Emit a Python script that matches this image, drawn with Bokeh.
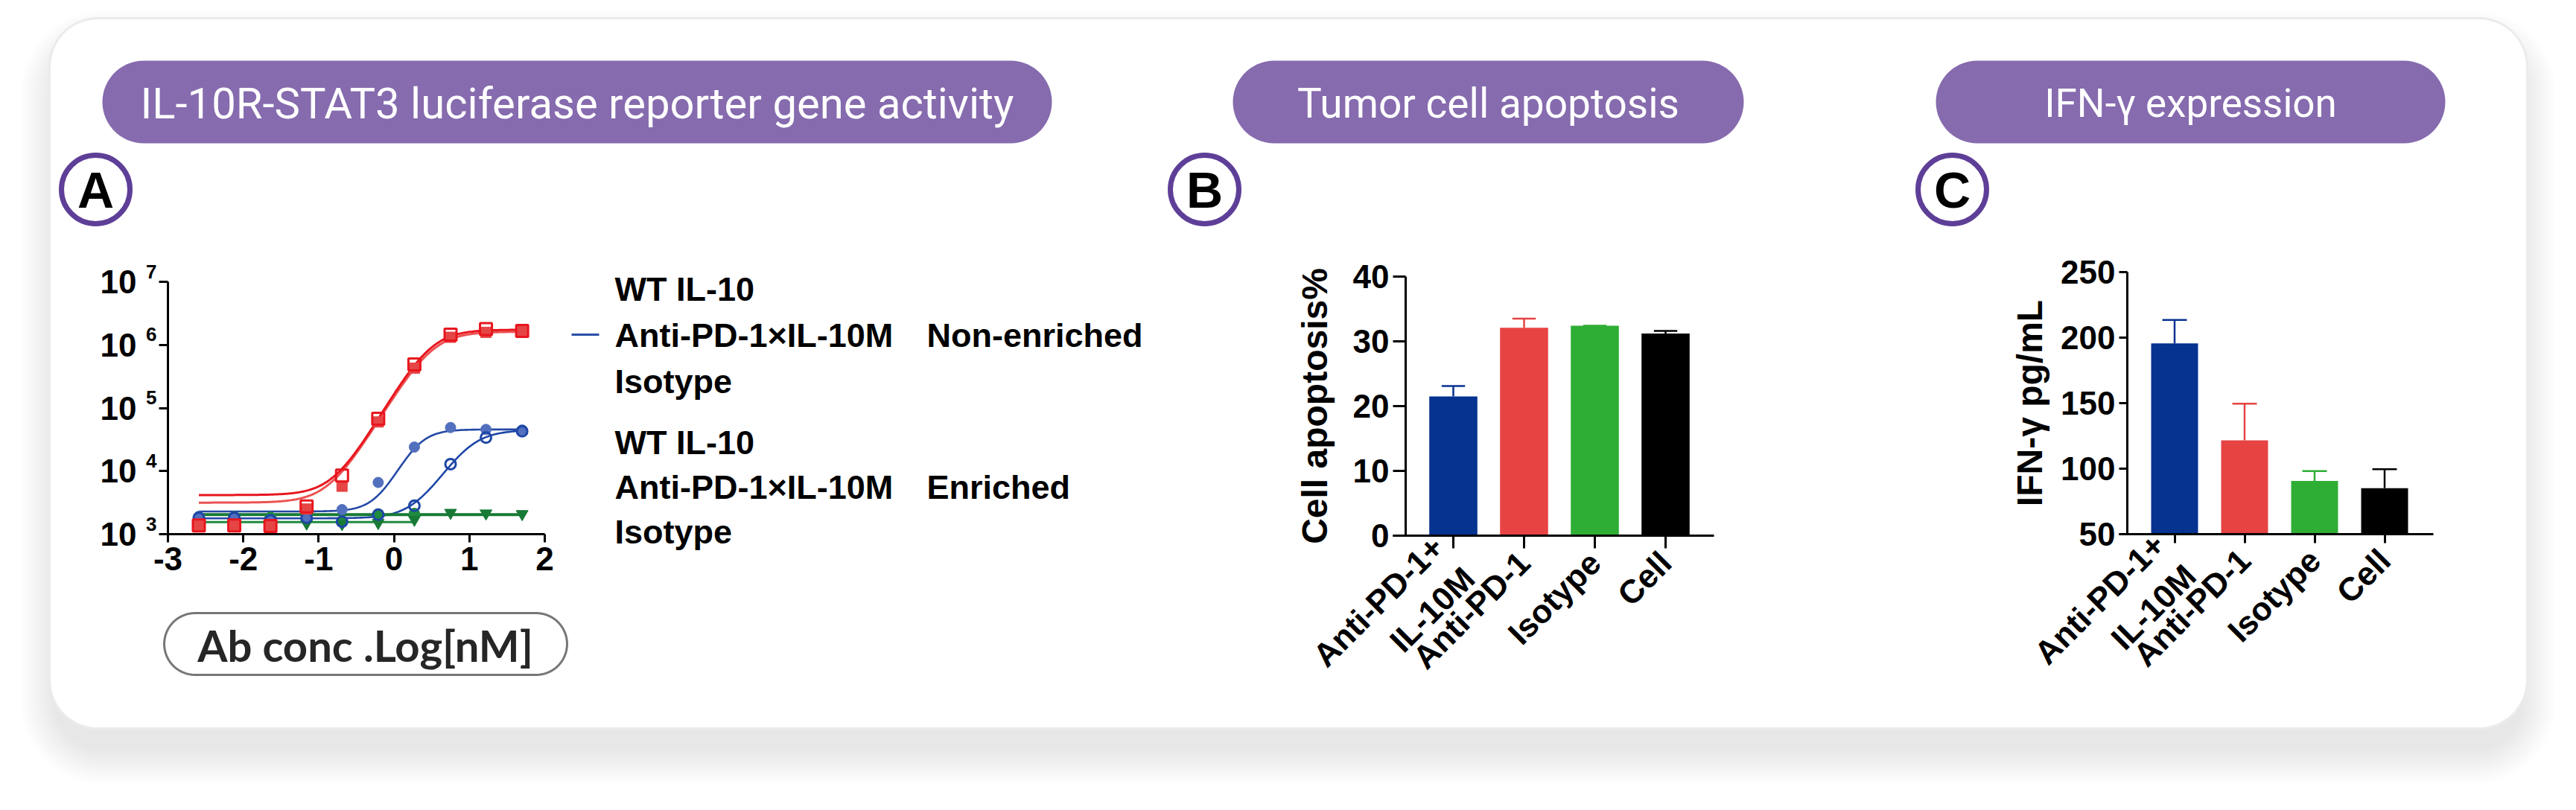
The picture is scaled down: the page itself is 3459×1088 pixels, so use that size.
import math
import numpy as np
from bokeh.plotting import figure
from bokeh.models import Range1d, LinearAxis, LogAxis, LogScale, FixedTicker
from bokeh.embed import file_html
from bokeh.resources import INLINE
from bokeh.core.properties import value

# ======================= DATA =======================
# Panel A - IL-10R-STAT3 luciferase reporter (x = log10 antibody conc. [nM])
a_log_conc = [-2.59, -2.12, -1.64, -1.16, -0.69, -0.21, 0.27, 0.75, 1.22, 1.70]
a_wt_non = [1350, 1350, 1320, 2500, 5750, 60000, 427000, 1320000, 1580000, 1660000]
a_anti_non = [1900, 1820, 1660, 1820, 2450, 6600, 24000, 49000, 45700, 44700]
a_iso_non = [1900, 1900, 1860, 1780, 1580, 2090, 2140]
a_wt_enr = [1380, 1380, 1350, 2750, 8500, 67600, 490000, 1450000, 1780000, 1660000]
a_anti_enr = [1820, 1820, 1660, 1820, 1580, 2040, 2820, 12900, 33900, 42700]
a_iso_enr = [1660, 1660, 1660, 1480, 1450, 1510, 1700, 2190, 2140, 2090]
# fitted 4-parameter logistic curves, same series order as above
fit_bottom = [3160, 2290, 1550, 4170, 1780, 2040]
fit_top = [1620000, 45700, 1550, 1740000, 44700, 2040]
fit_logec50 = [0.50, 0.29, 0.0, 0.48, 0.98, 0.0]
fit_hill = [2.0, 2.7, 1.0, 2.06, 2.1, 1.0]
fit_x_end = [1.70, 1.70, 0.27, 1.70, 1.70, 1.70]
a_x_ticks = [-3, -2, -1, 0, 1, 2]
a_x_tick_labels = ["-3", "-2", "-1", "0", "1", "2"]
a_y_ticks = [1e3, 1e4, 1e5, 1e6, 1e7]
a_y_tick_base = "10"
a_y_tick_exponents = ["3", "4", "5", "6", "7"]
a_legend_rows = ["WT IL-10", "Anti-PD-1×IL-10M", "Isotype"]
a_legend_groups = ["Non-enriched", "Enriched"]
a_x_label = "Ab conc .Log[nM]"

# Panels B and C - bar charts (mean + SEM)
bar_categories = ["Anti-PD-1+\nIL-10M", "Anti-PD-1", "Isotype", "Cell"]
b_values = [21.5, 32.1, 32.4, 31.2]
b_sem = [1.6, 1.4, 0.0, 0.4]
b_y_ticks = [0, 10, 20, 30, 40]
b_y_label = "Cell apoptosis%"
c_values = [195.5, 121.5, 90.5, 85.0]
c_sem = [18.0, 28.0, 7.5, 14.5]
c_y_ticks = [50, 100, 150, 200, 250]
c_y_label = "IFN-γ pg/mL"

panel_titles = ["IL-10R-STAT3 luciferase reporter gene activity", "Tumor cell apoptosis", "IFN-γ expression"]
panel_letters = ["A", "B", "C"]

# ======================= LAYOUT (page pixels) =======================
W, H = 3440, 1075
X0, X1 = 0, W
Y0, Y1 = 0, H

# panel A plot area
A_XL, A_XR = 225.0, 731.0     # x = -3 .. 2
A_YB, A_YT = 717.0, 378.0     # y = 1e3 .. 1e7
a_xpx = (A_XR - A_XL) / 5.0
a_ypx = (A_YB - A_YT) / 4.0
# panel B
B_AXIS_X, B_XEND, B_XSTART = 1887.0, 2301.0, 1870.0
B_Y0, B_YTOP = 719.0, 371.0   # 0 .. 40
B_BAR1, B_STEP = 1951.0, 95.0
b_ypx = (B_Y0 - B_YTOP) / 40.0
# panel C
C_AXIS_X, C_XEND, C_XSTART = 2856.0, 3267.0, 2845.0
C_Y0, C_YTOP = 716.7, 365.0   # 50 .. 250
C_BAR1, C_STEP = 2919.5, 94.0
c_ypx = (C_Y0 - C_YTOP) / 200.0

FONT = "Liberation Sans"
PURPLE = "#866BAE"
RING = "#5E3F98"


def ax_of(px):
    return -3 + (px - A_XL) / a_xpx


def ay_log_of(py):
    return 3 + (A_YB - py) / a_ypx


def bx_of(px):
    return 1 + (px - B_BAR1) / B_STEP


def by_of(py):
    return (B_Y0 - py) / b_ypx


def cx_of(px):
    return 1 + (px - C_BAR1) / C_STEP


def cy_of(py):
    return 50 + (C_Y0 - py) / c_ypx


def rounded(x0, y0, x1, y1, r, n=16):
    xs, ys = [], []
    for cx, cy, a0, a1 in [(x1 - r, y0 + r, -90, 0), (x1 - r, y1 - r, 0, 90),
                           (x0 + r, y1 - r, 90, 180), (x0 + r, y0 + r, 180, 270)]:
        for t in np.linspace(math.radians(a0), math.radians(a1), n):
            xs.append(cx + r * math.cos(t))
            ys.append(cy + r * math.sin(t))
    return xs, ys


p = figure(width=W, height=H, x_range=Range1d(X0, X1), y_range=Range1d(Y1, Y0),
           output_backend="svg", toolbar_location=None, min_border=0,
           x_axis_location=None, y_axis_location=None)
p.xgrid.visible = False
p.ygrid.visible = False
p.outline_line_color = None
p.background_fill_color = "white"
p.border_fill_color = "white"

p.extra_x_ranges = {
    "ax": Range1d(ax_of(X0), ax_of(X1)),
    "bx": Range1d(bx_of(X0), bx_of(X1)),
    "cx": Range1d(cx_of(X0), cx_of(X1)),
}
p.extra_y_ranges = {
    "ay": Range1d(10 ** ay_log_of(Y1), 10 ** ay_log_of(Y0)),
    "by": Range1d(by_of(Y1), by_of(Y0)),
    "cy": Range1d(cy_of(Y1), cy_of(Y0)),
}
p.extra_y_scales = {"ay": LogScale()}

# ---------- card with shadow ----------
CARD = (66, 24, 3393, 978)
for k in range(12):
    e = 4 * k
    xs, ys = rounded(CARD[0] - e + 6, CARD[1] + 34 - e, CARD[2] + e - 6, CARD[3] + 30 + e, 65 + e)
    p.patch(xs, ys, fill_color="black", fill_alpha=0.008, line_color=None)
xs, ys = rounded(*CARD, 65)
p.patch(xs, ys, fill_color="white", line_color="#EBEBEB", line_width=3)

# ---------- title pills ----------
pills = [(137, 81, 1412, 192), (1655, 81, 2341, 192), (2599, 81, 3283, 192)]
for (x0, y0, x1, y1) in pills:
    xs, ys = rounded(x0, y0, x1, y1, (y1 - y0) / 2)
    p.patch(xs, ys, fill_color=PURPLE, line_color=None)
p.text(x=[(a + c) / 2 for a, _, c, _ in pills], y=[138, 138, 138], text=panel_titles,
       text_font=value("Roboto"), text_font_size=["58px", "55px", "53px"], text_color="white",
       text_align="center", text_baseline="middle")

# ---------- letter badges ----------
badge_x = [128, 1617, 2621]
p.scatter(badge_x, [254] * 3, size=92, marker="circle", fill_color="white",
          line_color=RING, line_width=7)
p.text(x=badge_x, y=[254] * 3, text=panel_letters, text_font=value(FONT),
       text_font_style="bold", text_font_size="68px", text_color="black",
       text_align="center", text_baseline="middle")

# ---------- panel A x-label pill ----------
xs, ys = rounded(220, 823, 761, 906, 41.5)
p.patch(xs, ys, fill_color="white", line_color="#777777", line_width=3)
p.text(x=[490], y=[866], text=[a_x_label], text_font=value("Lato"), text_font_style="bold",
       text_font_size="58px", text_color="#262626", text_align="center",
       text_baseline="middle")

# ---------- panel A legend ----------
p.line([767, 804], [449, 449], line_color="#2A4EA6", line_width=3)
leg_mid = [[387.5, 449.7, 512.3], [593.7, 654.3, 714.0]]
for g, group in enumerate(a_legend_groups):
    p.text(x=[825] * 3, y=leg_mid[g], text=a_legend_rows, text_font=value(FONT),
           text_font_style="bold", text_font_size="45px", text_color="black",
           text_align="left", text_baseline="middle")
    p.text(x=[1244], y=[leg_mid[g][1]], text=[group], text_font=value(FONT),
           text_font_style="bold", text_font_size="45px", text_color="black",
           text_align="left", text_baseline="middle")

# ---------- panel A curves and points ----------
RA = dict(x_range_name="ax", y_range_name="ay")
curve_colors = ["#EC5151", "#2448A5", "#1E8B3F", "#E8161E", "#1E46A6", "#177A35"]
curve_widths = [3, 2.6, 3, 3, 2.6, 4]
for i in range(6):
    xs = np.linspace(a_log_conc[0], fit_x_end[i], 240)
    ys = fit_bottom[i] + (fit_top[i] - fit_bottom[i]) / (1 + 10 ** ((fit_logec50[i] - xs) * fit_hill[i]))
    p.line(xs, ys, line_color=curve_colors[i], line_width=curve_widths[i], **RA)

p.scatter(a_log_conc[:len(a_iso_non)], a_iso_non, marker="circle", size=14,
          fill_color="#1E8B3F", line_color="#1E8B3F", **RA)
p.scatter(a_log_conc, a_iso_enr, marker="inverted_triangle", size=16,
          fill_color="#177A35", line_color="#177A35", **RA)
p.scatter(a_log_conc, a_anti_non, marker="circle", size=14,
          fill_color="#5270BE", line_color="#5270BE", **RA)
p.scatter(a_log_conc, a_anti_enr, marker="circle", size=14, fill_color=None,
          line_color="#1E46A6", line_width=3, **RA)
p.scatter(a_log_conc, a_wt_non, marker="square", size=14,
          fill_color="#E64545", line_color="#E64545", **RA)
p.scatter(a_log_conc, a_wt_enr, marker="square", size=16, fill_color=None,
          line_color="#E8161E", line_width=3, **RA)

# exponent part of the y tick labels
p.text(x=[-3] * len(a_y_ticks), y=a_y_ticks, text=a_y_tick_exponents, x_offset=-15, y_offset=-14,
       text_font=value(FONT), text_font_style="bold", text_font_size="26px",
       text_color="black", text_align="right", text_baseline="middle", **RA)


def style_axis(ax, tick_out, standoff, size="44px"):
    ax.axis_line_width = 3
    ax.axis_line_color = "black"
    ax.major_tick_line_width = 3
    ax.major_tick_line_color = "black"
    ax.major_tick_out = tick_out
    ax.major_tick_in = 0
    ax.minor_tick_out = 0
    ax.minor_tick_in = 0
    ax.minor_tick_line_color = None
    ax.major_label_standoff = standoff
    ax.major_label_text_font = FONT
    ax.major_label_text_font_style = "bold"
    ax.major_label_text_font_size = size
    ax.major_label_text_color = "black"
    ax.axis_label_text_font = FONT
    ax.axis_label_text_font_style = "bold"
    ax.axis_label_text_font_size = "48px"
    ax.axis_label_text_color = "black"


xa = LinearAxis(x_range_name="ax", y_range_name="ay", fixed_location=1e3, bounds=(-3, 2),
                ticker=FixedTicker(ticks=a_x_ticks),
                major_label_overrides={t: l for t, l in zip(a_x_ticks, a_x_tick_labels)})
style_axis(xa, 11, 6)
p.add_layout(xa, "below")
ya = LogAxis(x_range_name="ax", y_range_name="ay", fixed_location=-3, bounds=(1e3, 1e7),
             ticker=FixedTicker(ticks=a_y_ticks),
             major_label_overrides={t: a_y_tick_base for t in a_y_ticks})
style_axis(ya, 12, 30, "44px")
p.add_layout(ya, "left")

# ---------- panel B ----------
bar_colors = ["#063290", "#E74343", "#2FAE35", "#000000"]
bar_pos = list(range(1, len(bar_categories) + 1))
RB = dict(x_range_name="bx", y_range_name="by")
p.vbar(x=bar_pos, top=b_values, bottom=0, width=0.68, fill_color=bar_colors,
       line_color=None, **RB)
b_upper = [v + e for v, e in zip(b_values, b_sem)]
p.segment(x0=bar_pos, y0=b_values, x1=bar_pos, y1=b_upper, line_color=bar_colors,
          line_width=2.5, **RB)
p.segment(x0=[x - 0.165 for x in bar_pos], y0=b_upper, x1=[x + 0.165 for x in bar_pos],
          y1=b_upper, line_color=bar_colors, line_width=2.5, **RB)
yb = LinearAxis(x_range_name="bx", y_range_name="by", fixed_location=bx_of(B_AXIS_X),
                bounds=(0, 40), ticker=FixedTicker(ticks=b_y_ticks), axis_label=b_y_label)
style_axis(yb, 17, 5)
yb.axis_label_standoff = 22
p.add_layout(yb, "left")
xb = LinearAxis(x_range_name="bx", y_range_name="by", fixed_location=0,
                bounds=(bx_of(B_XSTART), bx_of(B_XEND)), ticker=FixedTicker(ticks=bar_pos),
                major_label_overrides={t: l for t, l in zip(bar_pos, bar_categories)},
                major_label_orientation=math.pi / 4)
style_axis(xb, 17, 12, "44px")
p.add_layout(xb, "below")

# ---------- panel C ----------
RC = dict(x_range_name="cx", y_range_name="cy")
p.vbar(x=bar_pos, top=c_values, bottom=50, width=0.67, fill_color=bar_colors,
       line_color=None, **RC)
c_upper = [v + e for v, e in zip(c_values, c_sem)]
p.segment(x0=bar_pos, y0=c_values, x1=bar_pos, y1=c_upper, line_color=bar_colors,
          line_width=2.5, **RC)
p.segment(x0=[x - 0.175 for x in bar_pos], y0=c_upper, x1=[x + 0.175 for x in bar_pos],
          y1=c_upper, line_color=bar_colors, line_width=2.5, **RC)
yc = LinearAxis(x_range_name="cx", y_range_name="cy", fixed_location=cx_of(C_AXIS_X),
                bounds=(50, 250), ticker=FixedTicker(ticks=c_y_ticks), axis_label=c_y_label)
style_axis(yc, 11, 5)
yc.axis_label_standoff = 12
p.add_layout(yc, "left")
xc = LinearAxis(x_range_name="cx", y_range_name="cy", fixed_location=50,
                bounds=(cx_of(C_XSTART), cx_of(C_XEND)), ticker=FixedTicker(ticks=bar_pos),
                major_label_overrides={t: l for t, l in zip(bar_pos, bar_categories)},
                major_label_orientation=math.pi / 4)
style_axis(xc, 12, 16, "44px")
p.add_layout(xc, "below")

open("out.html", "w").write(file_html(p, INLINE))
